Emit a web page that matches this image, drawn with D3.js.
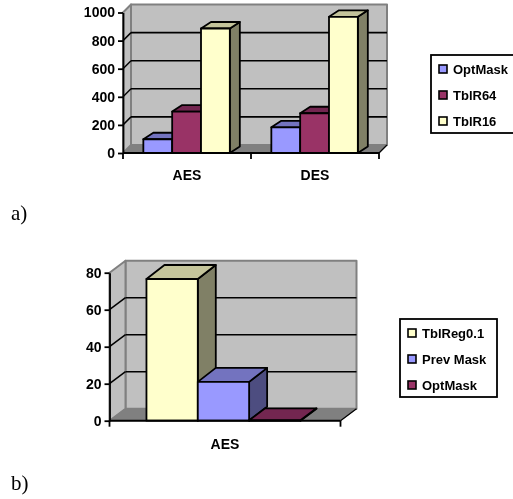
<!DOCTYPE html>
<html><head><meta charset="utf-8">
<script src="https://cdn.jsdelivr.net/npm/d3@7/dist/d3.min.js"></script>
<style>html,body{margin:0;padding:0;background:#fff;overflow:hidden}svg{display:block;filter:blur(0.35px)}</style>
</head><body><svg id="c" width="513" height="499"></svg>
<script>
// Chart a
const catsA = ["AES", "DES"];
const seriesA = ["OptMask", "TblR64", "TblR16"];
const optMaskA = [98, 183];
const tblR64A = [295, 283];
const tblR16A = [886, 969];
const ticksA = [0, 200, 400, 600, 800, 1000];
// Chart b
const catsB = ["AES"];
const seriesB = ["TblReg0.1", "Prev Mask", "OptMask"];
const tblRegB = [76.6];
const prevMaskB = [21];
const optMaskB = [0.2];
const ticksB = [0, 20, 40, 60, 80];

const BLUE = {f:"#9999ff", t:"#7373bf", s:"#4d4d80"};
const MAROON = {f:"#993366", t:"#732650", s:"#4d1a33"};
const YELLOW = {f:"#ffffcc", t:"#c4c49b", s:"#808066"};
const svg = d3.select("#c");
const FONT = "'Liberation Sans', Arial, sans-serif";

function chart(o){
  const g = svg.append("g");
  const yMax = o.ticks[o.ticks.length-1];
  const y = d3.scaleLinear().domain([0,yMax]).range([o.y0,o.y1]);
  const xb = d3.scaleBand().domain(o.cats).range([o.x0,o.x1]);
  const xi = d3.scaleBand().domain(o.series.map(s=>s.name)).range([0,xb.bandwidth()]).paddingInner(0).paddingOuter(o.pad).align(o.align);
  const [dx,dy] = o.wall;
  const poly = (pts,fill,st="#000",w=1.8)=>g.append("polygon").attr("points",pts.map(p=>p.join(",")).join(" "))
     .attr("fill",fill).attr("stroke",st).attr("stroke-width",w).attr("stroke-linejoin","round");
  // walls
  poly([[o.x0+dx,o.y1-dy],[o.x1+dx,o.y1-dy],[o.x1+dx,o.y0-dy],[o.x0+dx,o.y0-dy]],"#c0c0c0","#808080",2);
  poly([[o.x0,o.y1],[o.x0+dx,o.y1-dy],[o.x0+dx,o.y0-dy],[o.x0,o.y0]],"#c0c0c0","#808080",2);
  poly([[o.x0,o.y0],[o.x0+dx,o.y0-dy],[o.x1+dx,o.y0-dy],[o.x1,o.y0]],"#808080","#808080",1);
  // grid
  o.ticks.slice(1,-1).forEach(t=>{
    g.append("line").attr("x1",o.x0+dx).attr("x2",o.x1+dx).attr("y1",y(t)-dy).attr("y2",y(t)-dy).attr("stroke","#000").attr("stroke-width",1.6);
    g.append("line").attr("x1",o.x0).attr("x2",o.x0+dx).attr("y1",y(t)).attr("y2",y(t)-dy).attr("stroke","#000").attr("stroke-width",1.5);
  });
  // bars
  o.cats.forEach((c,ci)=>{
    o.series.forEach(s=>{
      const v = s.values[ci];
      // a bar lying on the floor cannot rise past the wall's depth
      const [bx,by] = v < yMax*0.01 ? o.wall : o.barDepth;
      const l = xb(c)+xi(s.name), r = l+xi.bandwidth(), top = y(v), b = y(0);
      poly([[r,top],[r+bx,top-by],[r+bx,b-by],[r,b]],s.c.s);
      poly([[l,top],[l+bx,top-by],[r+bx,top-by],[r,top]],s.c.t);
      poly([[l,top],[r,top],[r,b],[l,b]],s.c.f);
    });
  });
  // axes
  const ya = g.append("g").attr("transform",`translate(${o.x0},0)`)
    .call(d3.axisLeft(y).tickValues(o.ticks).tickFormat(d3.format("d")).tickSize(5).tickSizeOuter(0).tickPadding(3));
  ya.selectAll("line,path").attr("stroke","#000").attr("stroke-width",1.8);
  ya.selectAll("text").attr("font-family",FONT).attr("font-weight","bold").attr("font-size",o.fs).attr("fill","#000");
  const edges = o.cats.map(c=>xb(c)).concat([o.x1]);
  g.append("line").attr("x1",o.x0).attr("x2",o.x1).attr("y1",o.y0).attr("y2",o.y0).attr("stroke","#000").attr("stroke-width",1.9);
  g.selectAll("line.tk").data(edges).enter().append("line").attr("x1",d=>d).attr("x2",d=>d).attr("y1",o.y0).attr("y2",o.y0+6).attr("stroke","#000").attr("stroke-width",1.8);
  g.append("line").attr("x1",o.x1).attr("x2",o.x1+dx).attr("y1",o.y0).attr("y2",o.y0-dy).attr("stroke","#000").attr("stroke-width",1.2);
  g.selectAll("text.cat").data(o.cats).enter().append("text")
    .attr("x",d=>xb(d)+xb.bandwidth()/2).attr("y",o.catY).attr("text-anchor","middle")
    .attr("font-family",FONT).attr("font-weight","bold").attr("font-size",o.catFs).text(d=>d);
  // legend
  const L = o.legend;
  g.append("rect").attr("x",L.x).attr("y",L.y).attr("width",L.w).attr("height",L.h).attr("fill","#fff").attr("stroke","#000").attr("stroke-width",1.8);
  o.series.forEach((s,i)=>{
    const yy = L.y+L.first+i*L.step;
    g.append("rect").attr("x",L.x+8).attr("y",yy-4).attr("width",8).attr("height",8).attr("fill",s.c.f).attr("stroke","#000").attr("stroke-width",1.6);
    g.append("text").attr("x",L.x+L.tx).attr("y",yy+4.5).attr("font-family",FONT).attr("font-weight","bold").attr("font-size",L.fs).text(s.name);
  });
}

chart({cats:catsA, ticks:ticksA, x0:123,x1:379,y0:153,y1:12.5, wall:[8,8], barDepth:[10,6.5], pad:0.72, align:0.49, fs:14, catFs:14, catY:180,
  series:[{name:seriesA[0],values:optMaskA,c:BLUE},{name:seriesA[1],values:tblR64A,c:MAROON},{name:seriesA[2],values:tblR16A,c:YELLOW}],
  legend:{x:431,y:55,w:90,h:78,first:14,step:26,tx:22,fs:13}});
chart({cats:catsB, ticks:ticksB, x0:109.5,x1:340.5,y0:420.7,y1:272.7, wall:[16,12], barDepth:[18,14], pad:0.75, align:0.48, fs:14, catFs:14, catY:449,
  series:[{name:seriesB[0],values:tblRegB,c:YELLOW},{name:seriesB[1],values:prevMaskB,c:BLUE},{name:seriesB[2],values:optMaskB,c:MAROON}],
  legend:{x:400,y:319,w:97,h:78,first:14,step:26,tx:22,fs:13}});

svg.append("text").attr("x",11).attr("y",220).attr("font-family","'Liberation Serif',serif").attr("font-size",21).text("a)");
svg.append("text").attr("x",11).attr("y",490).attr("font-family","'Liberation Serif',serif").attr("font-size",21).text("b)");
</script></body></html>
